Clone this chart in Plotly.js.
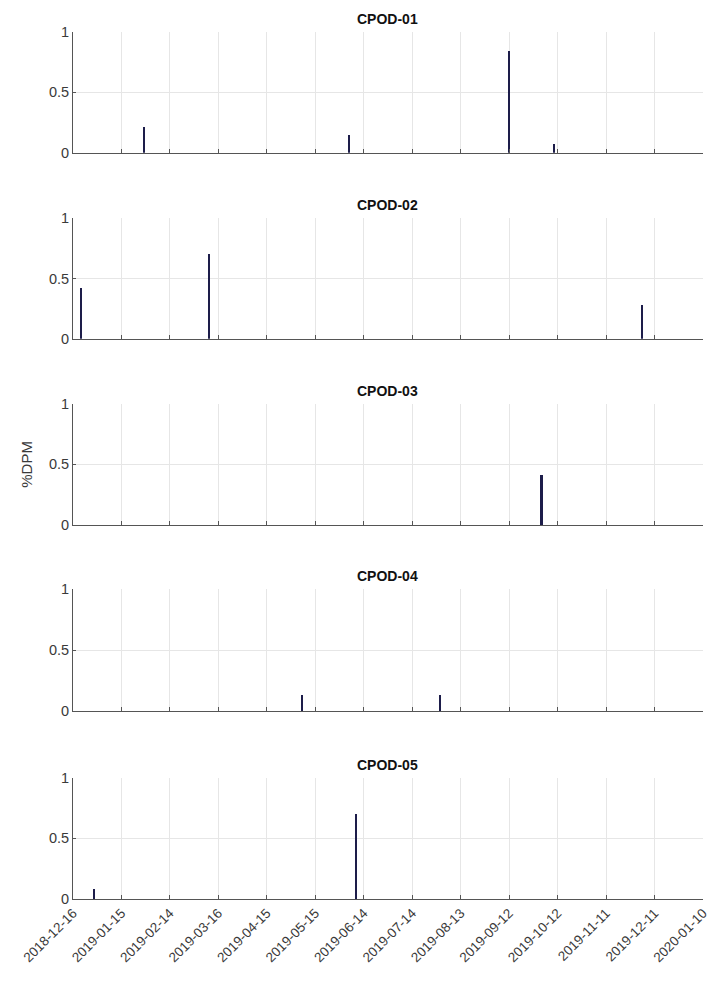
<!DOCTYPE html>
<html>
<head>
<meta charset="utf-8">
<script src="https://cdn.plot.ly/plotly-3.0.1.min.js"></script>
<style>html,body{margin:0;padding:0;background:#fff;}#chart{width:718px;height:990px;}</style>
</head>
<body>
<div id="chart"></div>
<script>
// ---- data ----
const panelTitles = ['CPOD-01', 'CPOD-02', 'CPOD-03', 'CPOD-04', 'CPOD-05'];

const cpod01Dates = ['2019-01-29', '2019-06-05', '2019-09-12', '2019-10-10'];
const cpod01Values = [0.21, 0.145, 0.84, 0.075];

const cpod02Dates = ['2018-12-21', '2019-03-10', '2019-12-03'];
const cpod02Values = [0.42, 0.70, 0.28];

const cpod03Dates = ['2019-10-02'];
const cpod03Values = [0.41];

const cpod04Dates = ['2019-05-07', '2019-07-31'];
const cpod04Values = [0.135, 0.135];

const cpod05Dates = ['2018-12-29', '2019-06-09'];
const cpod05Values = [0.08, 0.70];

const xTickDates = ['2018-12-16', '2019-01-15', '2019-02-14', '2019-03-16', '2019-04-15',
  '2019-05-15', '2019-06-14', '2019-07-14', '2019-08-13', '2019-09-12', '2019-10-12',
  '2019-11-11', '2019-12-11', '2020-01-10'];
const yTickVals = [0, 0.5, 1];
const yTickText = ['0', '0.5', '1'];
const yAxisLabel = '%DPM';

// ---- layout helpers ----
const H = 990, W = 718;
const allDates = [cpod01Dates, cpod02Dates, cpod03Dates, cpod04Dates, cpod05Dates];
const allValues = [cpod01Values, cpod02Values, cpod03Values, cpod04Values, cpod05Values];
const panelPx = [[31.7, 152.7], [218.3, 338.8], [403.8, 525], [589, 711], [777.5, 899]];
const xDom = [73 / W, 703 / W];
const barColor = '#1d1d4a';
const dayMs = 86400000;
const font = 'Liberation Sans, Arial, sans-serif';

const traces = [];
const layout = {
  width: W, height: H,
  margin: {l: 0, r: 0, t: 0, b: 0},
  paper_bgcolor: '#ffffff',
  plot_bgcolor: '#ffffff',
  showlegend: false,
  font: {family: font, color: '#333'},
  annotations: [],
  bargap: 0
};

for (let i = 0; i < 5; i++) {
  const sfx = i === 0 ? '' : String(i + 1);
  traces.push({
    type: 'bar',
    x: allDates[i],
    y: allValues[i],
    width: allDates[i].map(() => 1.3 * dayMs),
    marker: {color: barColor, line: {width: 0}},
    xaxis: 'x' + sfx,
    yaxis: 'y' + sfx,
    hoverinfo: 'x+y'
  });
  const yDom = [1 - panelPx[i][1] / H, 1 - panelPx[i][0] / H];
  layout['xaxis' + sfx] = {
    type: 'date',
    domain: xDom,
    anchor: 'y' + sfx,
    range: [xTickDates[0], xTickDates[xTickDates.length - 1]],
    tickmode: 'array',
    tickvals: xTickDates,
    ticktext: xTickDates,
    showticklabels: i === 4,
    tickangle: -45,
    tickfont: {family: font, size: 13.5, color: '#3a3a3a'},
    ticks: 'inside',
    ticklen: 4,
    tickcolor: '#555',
    showgrid: true,
    gridcolor: '#e6e6e6',
    gridwidth: 1,
    showline: true,
    linecolor: '#555',
    linewidth: 1,
    zeroline: false,
    fixedrange: true
  };
  layout['yaxis' + sfx] = {
    domain: yDom,
    anchor: 'x' + sfx,
    range: [0, 1],
    tickmode: 'array',
    tickvals: yTickVals,
    ticktext: yTickText,
    tickfont: {family: font, size: 14.5, color: '#3a3a3a'},
    ticks: 'inside',
    ticklen: 3,
    tickcolor: '#555',
    showgrid: true,
    gridcolor: '#e6e6e6',
    gridwidth: 1,
    showline: true,
    linecolor: '#555',
    linewidth: 1,
    zeroline: false,
    fixedrange: true,
    title: i === 2 ? {text: yAxisLabel, font: {family: font, size: 15, color: '#3a3a3a'}, standoff: 12} : {text: ''}
  };
  layout.annotations.push({
    text: '<b>' + panelTitles[i] + '</b>',
    xref: 'paper', yref: 'paper',
    x: (xDom[0] + xDom[1]) / 2,
    y: yDom[1],
    xanchor: 'center', yanchor: 'bottom',
    yshift: 3,
    showarrow: false,
    font: {family: font, size: 14, color: '#111'}
  });
}

Plotly.newPlot('chart', traces, layout, {displayModeBar: false, staticPlot: true});
</script>
</body>
</html>
